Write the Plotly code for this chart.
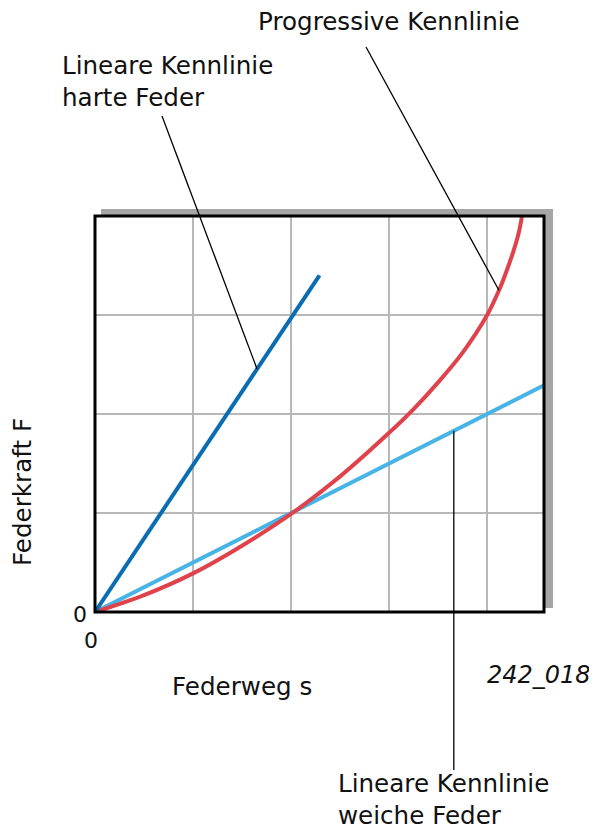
import plotly.graph_objects as go

# Data (axis units: one grid step = 1)
hard_x = [0, 2.29]
hard_y = [0, 3.40]
soft_x = [0, 4.58]
soft_y = [0, 2.29]
prog_x = [0, 0.5, 1.0, 1.5, 2.0, 2.5, 3.0, 3.25, 3.5, 3.75, 4.0, 4.13, 4.2, 4.27, 4.32, 4.354]
prog_y = [0, 0.17, 0.39, 0.67, 0.99, 1.37, 1.81, 2.05, 2.32, 2.62, 3.0, 3.27, 3.45, 3.65, 3.82, 3.99]

XMAX, YMAX = 4.58, 4.0
OFF = 8                     # page body margin in the browser
W, H = 597 - OFF, 831 - OFF
L, T = 95 - OFF, 216 - OFF
PW, PH = 449, 396
R, B = W - L - PW, H - T - PH

fig = go.Figure()
fig.add_trace(go.Scatter(x=soft_x, y=soft_y, mode="lines",
                         line=dict(color="#48b4e6", width=4), hoverinfo="skip"))
fig.add_trace(go.Scatter(x=prog_x, y=prog_y, mode="lines",
                         line=dict(color="#df424b", width=4, shape="spline", smoothing=1.0),
                         hoverinfo="skip"))
fig.add_trace(go.Scatter(x=hard_x, y=hard_y, mode="lines",
                         line=dict(color="#0a6db4", width=4), hoverinfo="skip"))


def px(xpix):
    return (xpix - OFF - L) / PW


def py(ypix):
    return (T + PH - (ypix - OFF)) / PH


def dx(x):
    return x / XMAX


def dy(y):
    return y / YMAX


shapes = [
    # shadow (top and right strips)
    dict(type="rect", xref="paper", yref="paper", x0=px(101), x1=px(553), y0=py(216), y1=py(209),
         fillcolor="#a6a6a6", line=dict(width=0), layer="below"),
    dict(type="rect", xref="paper", yref="paper", x0=px(544), x1=px(553), y0=py(608), y1=py(209),
         fillcolor="#a6a6a6", line=dict(width=0), layer="below"),
    # frame
    dict(type="rect", xref="paper", yref="paper", x0=0, x1=1, y0=0, y1=1,
         line=dict(color="black", width=3), layer="above"),
    # leader lines
    dict(type="line", xref="paper", yref="paper", x0=dx(1.653), y0=dy(1.653 * 3.40 / 2.29),
         x1=px(162), y1=py(116), line=dict(color="black", width=1.3)),
    dict(type="line", xref="paper", yref="paper", x0=dx(4.12), y0=dy(3.25),
         x1=px(366), y1=py(47), line=dict(color="black", width=1.3)),
    dict(type="line", xref="paper", yref="paper", x0=dx(3.66), y0=dy(3.66 * 0.5),
         x1=dx(3.66), y1=py(770), line=dict(color="black", width=1.3)),
]

FONT = "DejaVu Sans"
tc = "#111111"


def ann(text, xpix, ypix, size=24.6, xanchor="left", italic=False, angle=0):
    return dict(text=("<i>%s</i>" % text) if italic else text, xref="paper", yref="paper",
                x=px(xpix), y=py(ypix), xanchor=xanchor, yanchor="middle", showarrow=False,
                font=dict(family=FONT, size=size, color=tc), textangle=angle, align="left")


annotations = [
    ann("Progressive Kennlinie", 256, 21),
    ann("Lineare Kennlinie<br>harte Feder", 60, 81),
    ann("Lineare Kennlinie<br>weiche Feder", 336, 799),
    ann("Federkraft F", 22, 492, angle=-90, xanchor="center"),
    ann("Federweg s", 170, 686),
    ann("242_018", 485, 675, size=24, italic=True),
    ann("0", 80, 614, size=22, xanchor="center"),
    ann("0", 91, 640, size=22, xanchor="center"),
]

fig.update_layout(
    width=W, height=H,
    margin=dict(l=L, r=R, t=T, b=B, pad=0),
    paper_bgcolor="white", plot_bgcolor="white",
    showlegend=False,
    shapes=shapes, annotations=annotations,
    xaxis=dict(range=[0, XMAX], dtick=1, tick0=0, showticklabels=False, ticks="",
               showgrid=True, gridcolor="#b8b8b8", gridwidth=1.5, zeroline=False,
               showline=False, fixedrange=True),
    yaxis=dict(range=[0, YMAX], dtick=1, tick0=0, showticklabels=False, ticks="",
               showgrid=True, gridcolor="#b8b8b8", gridwidth=1.5, zeroline=False,
               showline=False, fixedrange=True),
)

fig.write_html("out.html")
